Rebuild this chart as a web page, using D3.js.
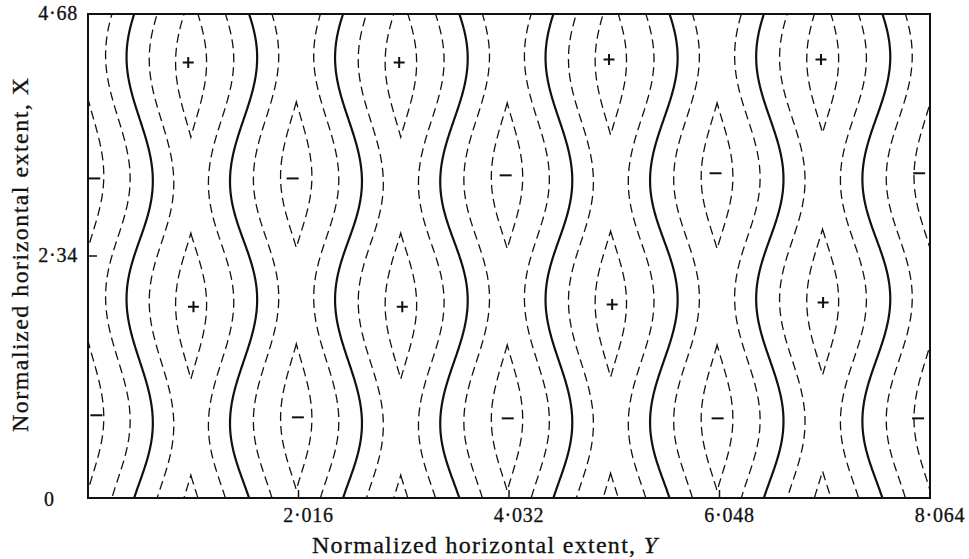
<!DOCTYPE html>
<html>
<head>
<meta charset="utf-8">
<script src="https://cdn.jsdelivr.net/npm/d3@7"></script>
<style>
  body { margin: 0; background: #fff; }
  svg { display: block; }
  svg text { font-family: "Liberation Serif", Tinos, serif; }
</style>
</head>
<body>
<svg id="chart" width="969" height="559"></svg>
<script>
// axis ticks
const yTicks = [2.016, 4.032, 6.048, 8.064];
const xTicks = [2.34, 4.68];

// cell columns: axis position, sign, X of the lower extremum
const ridgeY = [0, 0.98, 1.99, 2.99, 4.01, 5.00, 6.02, 7.03, 8.06];
const ridgeSign = [-1, 1, -1, 1, -1, 1, -1, 1, -1];
const ridgePeakX = [0.79, 1.85, 0.78, 1.85, 0.77, 1.87, 0.77, 1.89, 0.77];
const periodX = 2.34;
const widthSwing = 0.26;   // how much a column widens at its extremum rows
const heightSwing = 0.22;  // how much its amplitude rises there

// extremum markers [Y, X]
const plusMarks = [[0.96, 4.21], [1.01, 1.85], [2.98, 4.21], [3.01, 1.85],
                   [4.99, 4.24], [5.02, 1.87], [7.02, 4.24], [7.04, 1.89]];
const minusMarks = [[0.06, 3.09], [0.08, 0.80], [1.96, 3.09], [2.01, 0.78],
                    [4.00, 3.12], [4.02, 0.77], [6.01, 3.14], [6.03, 0.77],
                    [7.96, 3.14], [7.95, 0.77]];

const levels = [-0.93, -0.43, 0, 0.43, 0.93];

const ink = "#111";

const svg = d3.select("#chart");
const frame = { left: 88, right: 930, top: 14, bottom: 498 };
const x = d3.scaleLinear().domain([0, 8.064]).range([frame.left, frame.right]);
const y = d3.scaleLinear().domain([0, 4.68]).range([frame.bottom, frame.top]);

function field(Y, X) {
    const n = ridgeY.length;
    if (Y < ridgeY[0]) Y = 2 * ridgeY[0] - Y;
    if (Y > ridgeY[n - 1]) Y = 2 * ridgeY[n - 1] - Y;
    let i = d3.bisectRight(ridgeY, Y) - 1;
    i = Math.max(0, Math.min(n - 2, i));
    const phase = k => Math.cos(2 * Math.PI * (X - ridgePeakX[k]) / periodX);
    const wa = 1 + widthSwing * phase(i), wb = 1 + widthSwing * phase(i + 1);
    const t = (Y - ridgeY[i]) / (ridgeY[i + 1] - ridgeY[i]);
    const t0 = wa / (wa + wb);
    if (t < t0) return ridgeSign[i] * (1 + heightSwing * phase(i)) * (1 - t / t0);
    return ridgeSign[i + 1] * (1 + heightSwing * phase(i + 1)) * (1 - (1 - t) / (1 - t0));
}

// sample grid (a bit wider than the frame, clipped later)
const step = 0.01, gy0 = -0.15, gx0 = -0.15;
const nx = Math.ceil((8.064 + 0.3) / step), ny = Math.ceil((4.68 + 0.3) / step);
const values = new Float64Array(nx * ny);
for (let j = 0; j < ny; j++) {
    for (let i = 0; i < nx; i++) {
        values[j * nx + i] = field(gy0 + i * step, gx0 + j * step);
    }
}

const contours = d3.contours().size([nx, ny]).thresholds(levels)(values);
const path = d3.geoPath(d3.geoTransform({
    point: function(px, py) { this.stream.point(x(gy0 + px * step), y(gx0 + py * step)); }
}));

svg.append("clipPath").attr("id", "plot-clip")
    .append("rect").attr("x", frame.left).attr("y", frame.top)
    .attr("width", frame.right - frame.left).attr("height", frame.bottom - frame.top);

svg.append("g")
    .attr("clip-path", "url(#plot-clip)")
    .selectAll("path")
    .data(contours)
    .enter()
    .append("path")
        .attr("d", path)
        .attr("fill", "none")
        .attr("stroke", ink)
        .attr("stroke-width", d => d.value === 0 ? 2.2 : 1.3)
        .attr("stroke-dasharray", d => d.value === 0 ? null : "9,5");

// markers
const marks = svg.append("g").attr("stroke", ink).attr("stroke-width", 2);
marks.selectAll(".plus")
    .data(plusMarks)
    .enter()
    .append("path")
        .attr("class", "plus")
        .attr("d", d => `M${x(d[0]) - 5.5},${y(d[1])}h11M${x(d[0])},${y(d[1]) - 5.5}v11`);
marks.selectAll(".minus")
    .data(minusMarks)
    .enter()
    .append("path")
        .attr("class", "minus")
        .attr("d", d => `M${x(d[0]) - 6},${y(d[1])}h12`);

// frame and ticks
svg.append("rect")
    .attr("x", frame.left).attr("y", frame.top)
    .attr("width", frame.right - frame.left).attr("height", frame.bottom - frame.top)
    .attr("fill", "none").attr("stroke", ink).attr("stroke-width", 2);

svg.selectAll(".ytick")
    .data(yTicks.slice(0, 3))
    .enter()
    .append("line")
        .attr("x1", d => x(d)).attr("x2", d => x(d))
        .attr("y1", frame.bottom).attr("y2", frame.bottom - 8)
        .attr("stroke", ink).attr("stroke-width", 1.5);

svg.selectAll(".xtick")
    .data(xTicks.slice(0, 1))
    .enter()
    .append("line")
        .attr("x1", frame.left).attr("x2", frame.left + 9)
        .attr("y1", d => y(d)).attr("y2", d => y(d))
        .attr("stroke", ink).attr("stroke-width", 1.5);

const dot = s => s.replace(".", "\u00b7");

const labels = svg.append("g")
    .attr("fill", ink)
    .attr("stroke", ink)
    .attr("stroke-width", 0.3);

labels.selectAll(".ylabel")
    .data(yTicks)
    .enter()
    .append("text")
        .attr("x", d => x(d) + 10)
        .attr("y", 522)
        .attr("text-anchor", "middle")
        .attr("font-size", 20)
        .attr("letter-spacing", 0.8)
        .text(d => dot(d3.format(".3f")(d)));

labels.selectAll(".xlabel")
    .data(xTicks)
    .enter()
    .append("text")
        .attr("x", 78)
        .attr("y", d => y(d) + 6)
        .attr("text-anchor", "end")
        .attr("font-size", 20)
        .attr("letter-spacing", 0.8)
        .text(d => dot(d3.format(".2f")(d)));

labels.append("text")
    .attr("x", 49).attr("y", 506)
    .attr("text-anchor", "middle")
    .attr("font-size", 20)
    .text("0");

const xTitle = labels.append("text")
    .attr("x", 312).attr("y", 553)
    .attr("font-size", 24)
    .attr("textLength", 345)
    .attr("lengthAdjust", "spacing");
xTitle.append("tspan").text("Normalized horizontal extent, ");
xTitle.append("tspan").attr("font-style", "italic").text("Y");

labels.append("text")
    .attr("transform", "translate(28,432) rotate(-90)")
    .attr("font-size", 24)
    .attr("textLength", 354)
    .attr("lengthAdjust", "spacing")
    .text("Normalized horizontal extent, X");
</script>
</body>
</html>
